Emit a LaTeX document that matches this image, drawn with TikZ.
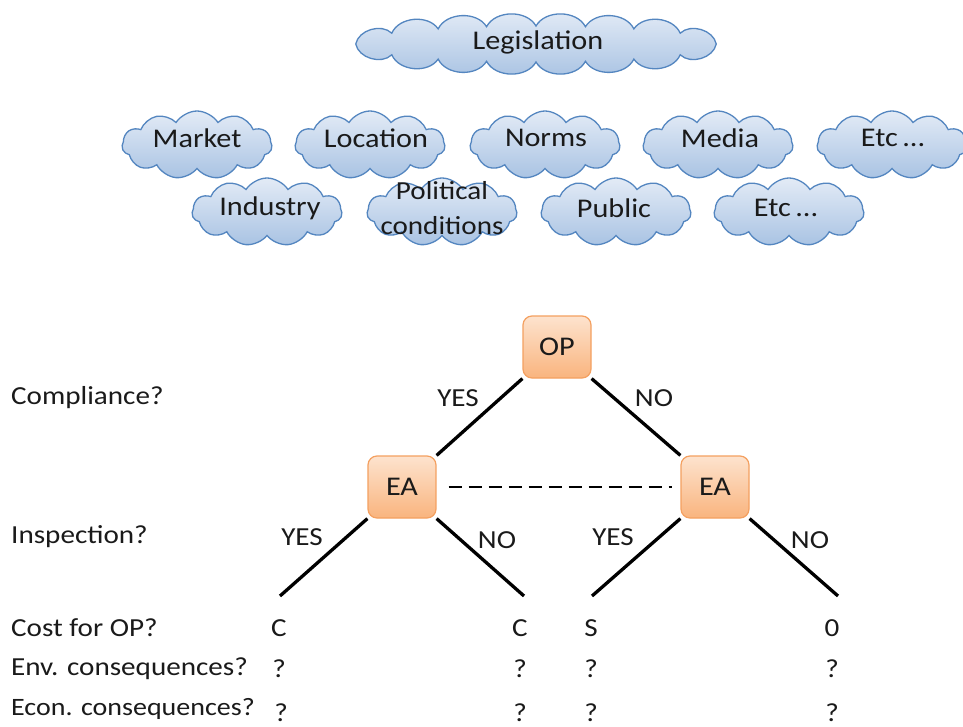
\documentclass[tikz,border=0pt]{standalone}
\usepackage{fontspec}
\setmainfont{Carlito}[FakeStretch=1.12]
\usetikzlibrary{shapes.symbols}
\definecolor{cloudtop}{HTML}{E3EBF6}
\definecolor{cloudbot}{HTML}{A9C3E3}
\definecolor{cloudline}{HTML}{5486C0}
\definecolor{boxtop}{HTML}{FDE3CE}
\definecolor{boxbot}{HTML}{F9B47E}
\definecolor{boxline}{HTML}{F4A060}
\definecolor{ink}{HTML}{1A1A1A}
\tikzset{
  cloudlook/.style={draw=cloudline, line width=1.3pt, top color=cloudtop, bottom color=cloudbot},
  factor/.style={cloud, cloud puffs=11, cloud puff arc=115, cloud ignores aspect,
    minimum width=150pt, minimum height=68pt, inner sep=0pt, cloudlook},
  player/.style={draw=boxline, line width=1.2pt, rounded corners=9pt,
    top color=boxtop, bottom color=boxbot, minimum width=68pt, minimum height=62pt,
    text=ink, font=\fontsize{27}{30}\selectfont},
  move/.style={line width=3.3pt, black},
  lbl/.style={text=ink, font=\fontsize{26}{30}\selectfont, inner sep=0pt},
  ctext/.style={text=ink, font=\fontsize{27}{34}\selectfont, inner sep=0pt, align=center},
  rowlbl/.style={lbl, anchor=west},
  puff/.style={bend left=62},
}
\begin{document}
\begin{tikzpicture}[x=1pt,y=-1pt]
\useasboundingbox (0,0) rectangle (963,727);
\fill[white] (0,0) rectangle (963,727);

% the long legislation cloud, built from a ring of puffs
\coordinate (leg) at (536,44);
\draw[cloudlook, shift={(leg)}, xscale=1.03]
  (-175,0) to[puff] (-140,-10.8) to[puff] (-95,-15.1) to[puff] (-48,-17.3)
  to[puff] (0,-18) to[puff] (48,-17.3) to[puff] (95,-15.1) to[puff] (140,-10.8)
  to[puff] (175,0) to[puff] (140,10.8) to[puff] (95,15.1) to[puff] (48,17.3)
  to[puff] (0,18) to[puff] (-48,17.3) to[puff] (-95,15.1) to[puff] (-140,10.8)
  to[puff] (-175,0) -- cycle;
\node[ctext] (legT) at (538,42) {Legislation};

% influencing factors
\node[factor] (market) at (197,145) {};
\node[ctext] (marketT) at (197,138) {Market};
\node[factor] (loc) at (370,145) {};
\node[ctext] (locT) at (376,138) {Location};
\node[factor] (norms) at (545,145) {};
\node[ctext] (normsT) at (546,138) {Norms};
\node[factor] (media) at (718,145) {};
\node[ctext] (mediaT) at (720,138) {Media};
\node[factor] (etc1) at (892,145) {};
\node[ctext] (etc1T) at (893,138) {Etc\,...};

\node[factor] (ind) at (267,212) {};
\node[ctext] (indT) at (270,208) {Industry};
\node[factor] (pol) at (442,212) {};
\node[ctext, font=\fontsize{26}{35}\selectfont] (polT) at (442,208) {Political\\conditions};
\node[factor] (pub) at (616,212) {};
\node[ctext] (pubT) at (614,208) {Public};
\node[factor] (etc2) at (789,212) {};
\node[ctext] (etc2T) at (786,208) {Etc\,...};

% game tree
\node[player] (op) at (557,347) {OP};
\node[player] (ea1) at (402,487) {EA};
\node[player] (ea2) at (715,487) {EA};

\coordinate (l1) at (280,596);
\coordinate (l2) at (524,596);
\coordinate (l3) at (592,596);
\coordinate (l4) at (838,596);

\draw[move] (op.south west) -- (ea1.north east);
\draw[move] (op.south east) -- (ea2.north west);
\draw[move] (ea1.south west) -- (l1);
\draw[move] (ea1.south east) -- (l2);
\draw[move] (ea2.south west) -- (l3);
\draw[move] (ea2.south east) -- (l4);
\draw[line width=1.6pt, dash pattern=on 13pt off 7pt, shorten <=12pt, shorten >=8pt] (ea1.east) -- (ea2.west);

\node[lbl] (y0) at (458,398) {YES};
\node[lbl] (n0) at (654,398) {NO};
\node[lbl] (y1) at (302,537) {YES};
\node[lbl] (n1) at (497,540) {NO};
\node[lbl] (y2) at (613,537) {YES};
\node[lbl] (n2) at (810,540) {NO};

% questions at each stage
\node[rowlbl] (q1) at (11,398) {Compliance?};
\node[rowlbl] (q2) at (11,537) {Inspection?};
\node[rowlbl] (q3) at (11,628) {Cost for OP?};
\node[rowlbl] (q4) at (11,669) {Env. consequences?};
\node[rowlbl, font=\fontsize{25}{30}\selectfont] (q5) at (11,709) {Econ. consequences?};

% outcomes
\node[lbl] (c1) at (279,628) {C};
\node[lbl] (c2) at (520,628) {C};
\node[lbl] (c3) at (591,628) {S};
\node[lbl] (c4) at (832,628) {0};
\node[lbl] (e1) at (279,669) {?};
\node[lbl] (e2) at (520,669) {?};
\node[lbl] (e3) at (591,669) {?};
\node[lbl] (e4) at (832,669) {?};
\node[lbl] (k1) at (281,713) {?};
\node[lbl] (k2) at (520,713) {?};
\node[lbl] (k3) at (591,713) {?};
\node[lbl] (k4) at (832,713) {?};
\end{tikzpicture}
\end{document}
